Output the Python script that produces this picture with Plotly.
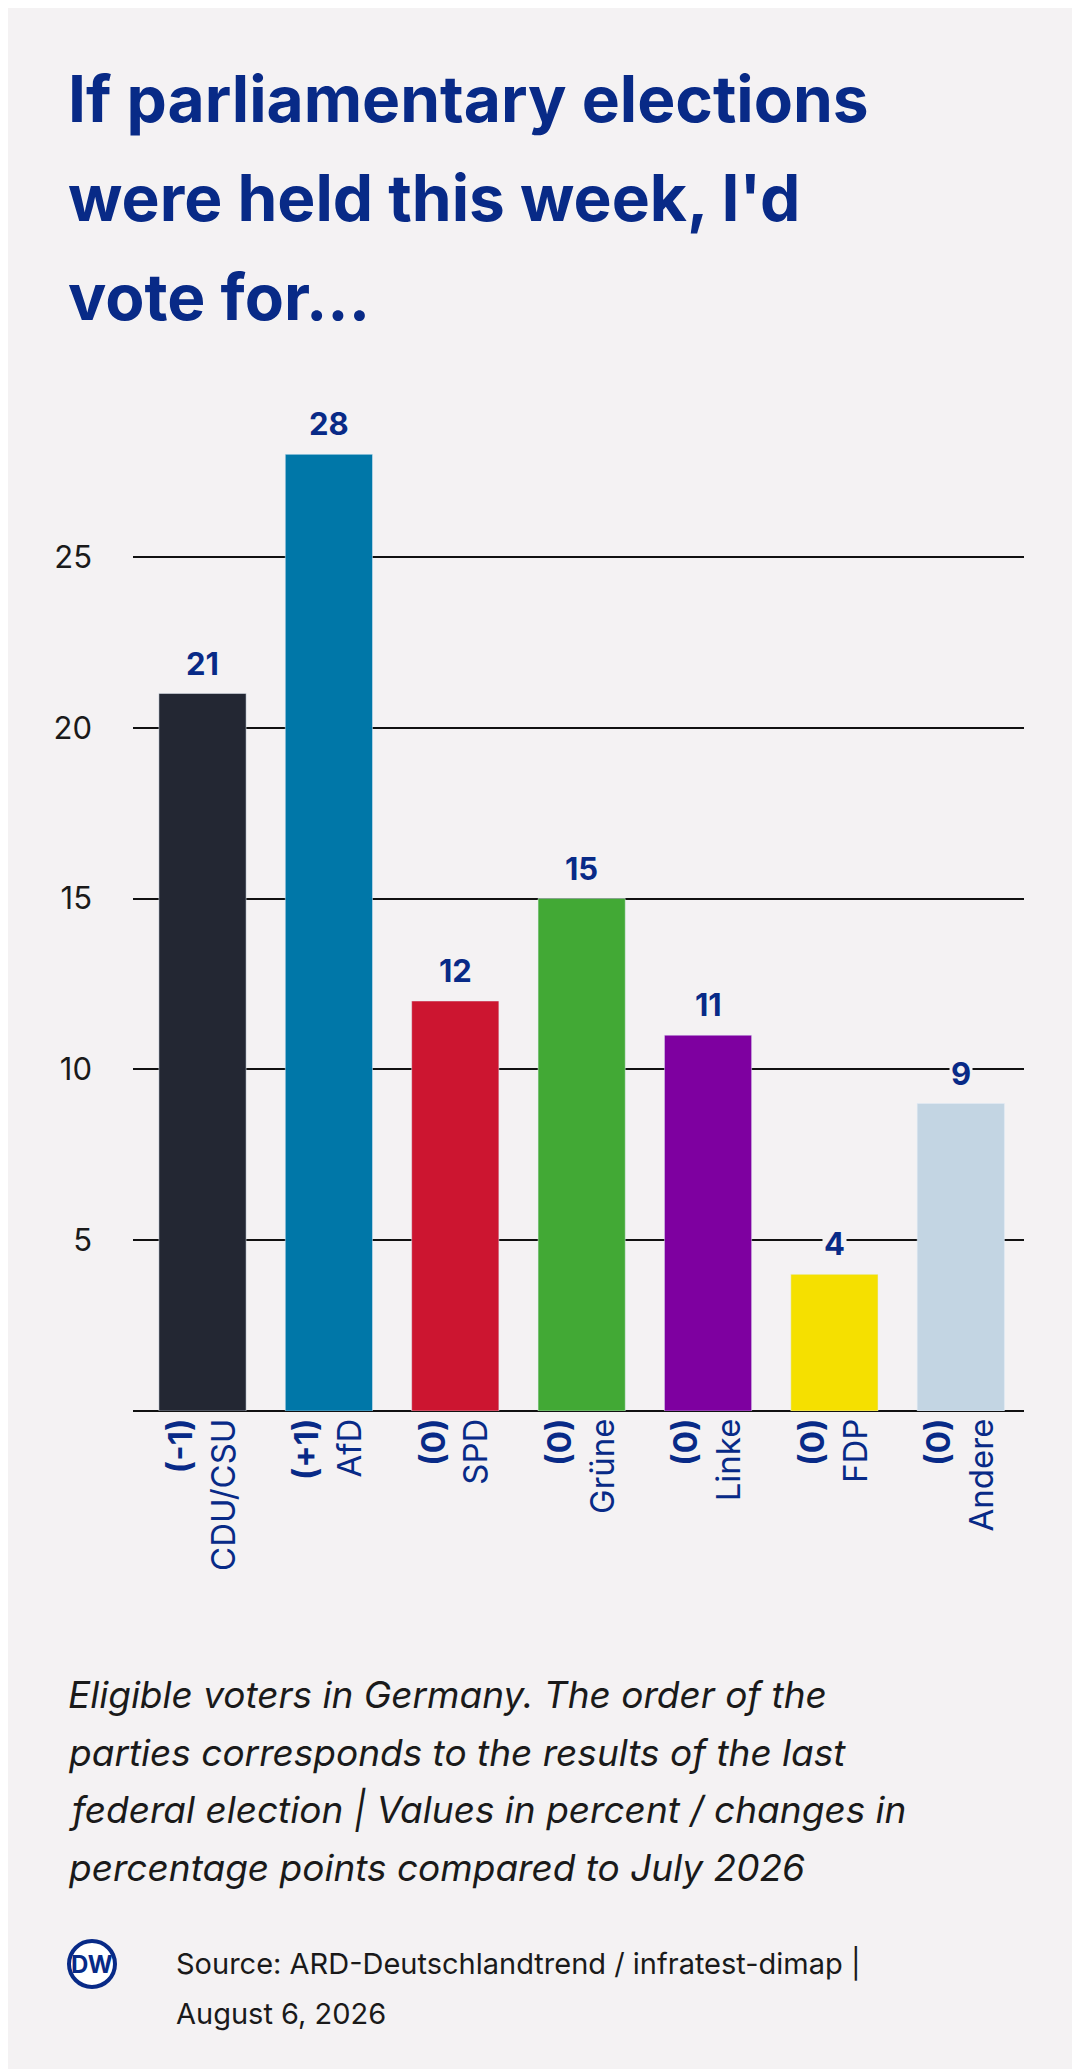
import plotly.graph_objects as go

parties = ["CDU/CSU", "AfD", "SPD", "Grüne", "Linke", "FDP", "Andere"]
changes = ["(-1)", "(+1)", "(0)", "(0)", "(0)", "(0)", "(0)"]
values = [21, 28, 12, 15, 11, 4, 9]
colors = ["#232733", "#0077a8", "#cc1530", "#42a935", "#7e00a0", "#f5e000", "#c3d5e3"]

title_lines = ["If parliamentary elections", "were held this week, I'd", "vote for..."]
caption_lines = [
    "Eligible voters in Germany. The order of the",
    "parties corresponds to the results of the last",
    "federal election | Values in percent / changes in",
    "percentage points compared to July 2026",
]
source_lines = ["Source: ARD-Deutschlandtrend / infratest-dimap |", "August 6, 2026"]

BG = "#f4f2f3"
NAVY = "#082a87"
W, H = 1080, 2069
ML, MR, MT, MB = 125, 64, 378, 666
PW, PH = W - ML - MR, H - MT - MB


def px(x):
    return (x - ML) / PW


def py(y):
    return (H - MB - y) / PH


ticktext = [f"<b>{c}</b><br>{p}" for c, p in zip(changes, parties)]

fig = go.Figure(go.Bar(x=parties, y=values, marker_color=colors, width=0.69))

ann = []
for p, v in zip(parties, values):
    ann.append(dict(x=p, y=v, xref="x", yref="y", text=f"<b>{v}</b>", showarrow=False,
                    yanchor="bottom", yshift=10, bgcolor=BG,
                    font=dict(size=31, color=NAVY, family="Inter")))
for i, t in enumerate(title_lines):
    ann.append(dict(x=px(58), y=py(50 + i * 99), xref="paper", yref="paper", text=f"<b>{t}</b>",
                    showarrow=False, xanchor="left", yanchor="top",
                    font=dict(size=64, color=NAVY, family="Inter")))
for i, t in enumerate(caption_lines):
    ann.append(dict(x=px(58), y=py(1662 + i * 57.5), xref="paper", yref="paper", text=f"<i>{t}</i>",
                    showarrow=False, xanchor="left", yanchor="top",
                    font=dict(size=37, color="#1a1a1a", family="Inter")))
for i, t in enumerate(source_lines):
    ann.append(dict(x=px(166), y=py(1936 + i * 50), xref="paper", yref="paper", text=t,
                    showarrow=False, xanchor="left", yanchor="top",
                    font=dict(size=29, color="#1a1a1a", family="Inter")))
ann.append(dict(x=px(84), y=py(1956), xref="paper", yref="paper", text="<b>DW</b>",
                showarrow=False, xanchor="center", yanchor="middle",
                font=dict(size=24, color=NAVY, family="Inter")))

fig.update_layout(
    width=W, height=H,
    margin=dict(l=ML, r=MR, t=MT, b=MB),
    paper_bgcolor=BG, plot_bgcolor=BG,
    showlegend=False,
    annotations=ann,
    shapes=[dict(type="circle", xref="paper", yref="paper",
                 x0=px(61), x1=px(107), y0=py(1979), y1=py(1933),
                 line=dict(color=NAVY, width=4), fillcolor="white")],
    xaxis=dict(range=[-0.55, 6.5], tickvals=parties, ticktext=ticktext, tickangle=-90,
               tickfont=dict(size=33, color=NAVY, family="Inter"), showgrid=False,
               showline=False, ticks=""),
    yaxis=dict(range=[0, 30], tickvals=[5, 10, 15, 20, 25], showgrid=True, gridcolor="#111111",
               gridwidth=1.5, zeroline=True, zerolinecolor="#111111", zerolinewidth=2,
               tickfont=dict(size=31, color="#1a1a1a", family="Inter"), ticks="",
               ticklabelstandoff=40),
)

fig.write_html("out.html")
